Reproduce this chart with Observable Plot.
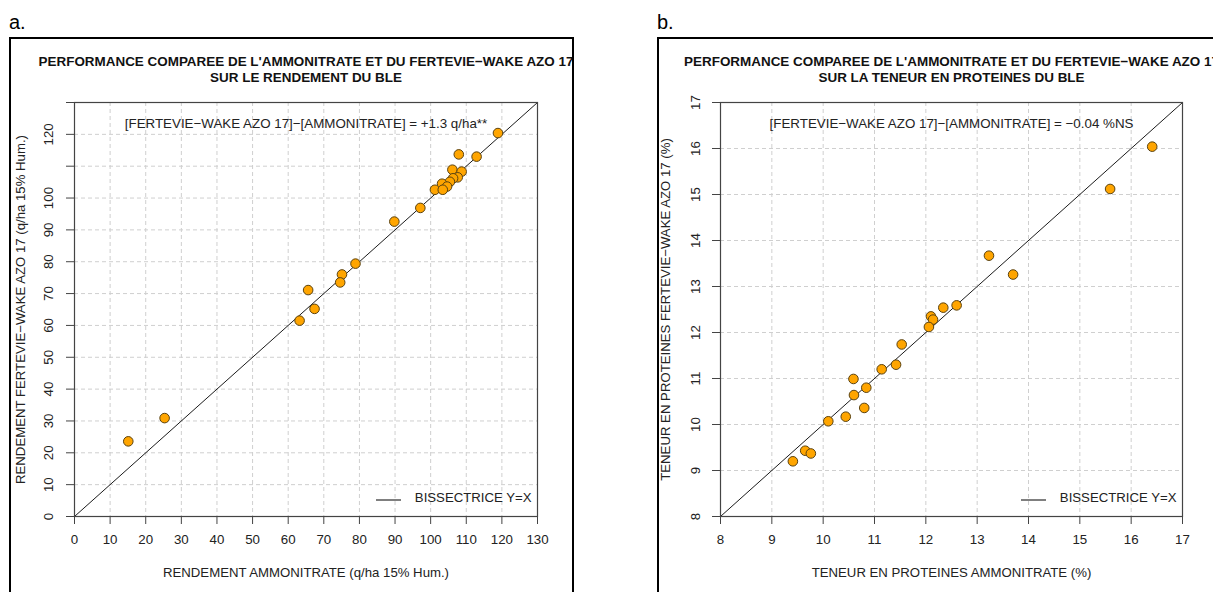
<!DOCTYPE html>
<html><head><meta charset="utf-8">
<script src="https://cdn.jsdelivr.net/npm/d3@7"></script>
<script src="https://cdn.jsdelivr.net/npm/@observablehq/plot@0.6"></script>
<style>
body{margin:0;background:#fff;font-family:"Liberation Sans",Arial,sans-serif;}
#root{position:relative;width:1213px;height:592px;overflow:hidden;background:#fff;}
.letter{position:absolute;font-size:20px;color:#000;line-height:1;}
.box{position:absolute;border:2px solid #000;pointer-events:none;}
.chart{position:absolute;top:0;}
</style></head><body><div id="root"></div>
<script>
// ---- Panel a : rendement (q/ha 15% Hum.)
const rendAmmonitrate = [118.9, 107.9, 112.9, 106.1, 108.7, 107.6, 106.3, 105.4, 103.2, 104.6, 101.2, 103.4, 97.1, 89.8, 78.9, 75.1, 74.6, 65.6, 67.4, 63.2, 25.3, 15.1];
const rendFertevie    = [120.4, 113.7, 113.0, 108.9, 108.3, 106.5, 106.2, 105.1, 104.5, 103.6, 102.6, 102.6, 96.9, 92.6, 79.4, 76.0, 73.5, 71.1, 65.2, 61.5, 30.9, 23.6];
const rendDomain = [0, 130];
const rendTicks = [0,10,20,30,40,50,60,70,80,90,100,110,120,130];
const rendYLabels = [0,10,20,30,40,50,60,70,80,90,100,120];

// ---- Panel b : teneur en protéines (%)
const protAmmonitrate = [16.41, 15.59, 13.23, 13.70, 12.34, 12.60, 12.10, 12.14, 12.06, 11.53, 11.42, 11.14, 10.59, 10.84, 10.60, 10.80, 10.44, 10.10, 9.65, 9.76, 9.41];
const protFertevie    = [16.04, 15.12, 13.67, 13.26, 12.54, 12.59, 12.35, 12.28, 12.12, 11.74, 11.30, 11.20, 10.99, 10.80, 10.64, 10.36, 10.17, 10.07, 9.43, 9.37, 9.20];
const protDomain = [8, 17];
const protTicks = [8,9,10,11,12,13,14,15,16,17];
const protYLabels = [8,9,10,11,12,13,14,15,16,17];

const panels = [
  {
    letter: "a.", left: 0, width: 600, mLeft: 74, mRight: 63, letterX: 9, boxX: 9, boxW: 561,
    xs: rendAmmonitrate, ys: rendFertevie, domain: rendDomain, ticks: rendTicks, yLabels: rendYLabels,
    title1: "PERFORMANCE COMPAREE DE L'AMMONITRATE ET DU FERTEVIE\u2212WAKE AZO 17",
    title2: "SUR LE RENDEMENT DU BLE",
    note: "[FERTEVIE\u2212WAKE AZO 17]\u2212[AMMONITRATE] = +1.3 q/ha**",
    xLabel: "RENDEMENT AMMONITRATE (q/ha 15% Hum.)",
    yLabel: "RENDEMENT FERTEVIE\u2212WAKE AZO 17 (q/ha 15% Hum.)",
    yLabDx: -26, yTitleDx: -54
  },
  {
    letter: "b.", left: 640, width: 573, mLeft: 80, mRight: 31, letterX: 657, boxX: 657, boxW: 600,
    xs: protAmmonitrate, ys: protFertevie, domain: protDomain, ticks: protTicks, yLabels: protYLabels,
    title1: "PERFORMANCE COMPAREE DE L'AMMONITRATE ET DU FERTEVIE\u2212WAKE AZO 17",
    title2: "SUR LA TENEUR EN PROTEINES DU BLE",
    note: "[FERTEVIE\u2212WAKE AZO 17]\u2212[AMMONITRATE] = \u22120.04 %NS",
    xLabel: "TENEUR EN PROTEINES AMMONITRATE (%)",
    yLabel: "TENEUR EN PROTEINES FERTEVIE\u2212WAKE AZO 17 (%)",
    yLabDx: -25, yTitleDx: -55
  }
];

const root = document.getElementById("root");
const axisColor = "#444";

for (const p of panels) {
  const pts = p.xs.map((x, i) => ({x, y: p.ys[i]}));
  const diag = p.domain.map(v => ({x: v, y: v}));
  const legendLine = (index, scales, values, dims) => {
    const xr = dims.width - dims.marginRight;
    const yb = dims.height - dims.marginBottom;
    const l = d3.create("svg:line")
      .attr("x1", xr - 161).attr("x2", xr - 136)
      .attr("y1", yb - 16).attr("y2", yb - 16)
      .attr("stroke", "#000").attr("stroke-width", 1);
    return l.node();
  };
  const chart = Plot.plot({
    width: p.width, height: 592,
    marginLeft: p.mLeft, marginRight: p.mRight, marginTop: 102, marginBottom: 76,
    style: {background: "transparent", fontFamily: "'Liberation Sans', Arial, sans-serif", fontSize: "13px", color: "#222"},
    x: {domain: p.domain},
    y: {domain: p.domain},
    marks: [
      Plot.gridX(p.ticks, {stroke: "#cfcfcf", strokeOpacity: 1, strokeDasharray: "4,3"}),
      Plot.gridY(p.ticks, {stroke: "#cfcfcf", strokeOpacity: 1, strokeDasharray: "4,3"}),
      Plot.line(diag, {x: "x", y: "y", stroke: "#000", strokeWidth: 0.9}),
      Plot.frame({stroke: axisColor, strokeWidth: 1.2}),
      Plot.axisX({ticks: p.ticks, tickSize: 8, tickPadding: 10, label: null, stroke: axisColor, fontSize: 13.3}),
      Plot.axisY({ticks: p.ticks, tickSize: 8, tickFormat: () => "", label: null, stroke: axisColor}),
      Plot.text(p.yLabels, {y: d => d, frameAnchor: "left", dx: p.yLabDx, rotate: -90, textAnchor: "middle", lineAnchor: "middle", fontSize: 13.3, text: d => String(d)}),
      Plot.dot(pts, {x: "x", y: "y", r: 4.8, fill: "#FFA500", stroke: "#5a4210", strokeWidth: 1}),
      Plot.text([p.title1], {frameAnchor: "top", dy: -46, fontWeight: "bold", fontSize: 13.45, fill: "#111"}),
      Plot.text([p.title2], {frameAnchor: "top", dy: -30, fontWeight: "bold", fontSize: 13.45, fill: "#111"}),
      Plot.text([p.note], {frameAnchor: "top", dy: 16, fontSize: 13.35, fill: "#222"}),
      Plot.text(["BISSECTRICE Y=X"], {frameAnchor: "bottom-right", dx: -6, dy: -15, textAnchor: "end", fontSize: 13.2, fill: "#222"}),
      legendLine,
      Plot.text([p.xLabel], {frameAnchor: "bottom", dy: 60, fontSize: 13.2, fill: "#222"}),
      Plot.text([p.yLabel], {frameAnchor: "left", dx: p.yTitleDx, rotate: -90, textAnchor: "middle", lineAnchor: "middle", fontSize: 13.2, fill: "#222"})
    ]
  });
  const wrap = document.createElement("div");
  wrap.className = "chart";
  wrap.style.left = p.left + "px";
  wrap.appendChild(chart);
  root.appendChild(wrap);

  const box = document.createElement("div");
  box.className = "box";
  box.style.left = p.boxX + "px";
  box.style.top = "37px";
  box.style.width = p.boxW + "px";
  box.style.height = "600px";
  root.appendChild(box);

  const lt = document.createElement("div");
  lt.className = "letter";
  lt.style.left = p.letterX + "px";
  lt.style.top = "12px";
  lt.textContent = p.letter;
  root.appendChild(lt);
}
</script>
</body></html>
